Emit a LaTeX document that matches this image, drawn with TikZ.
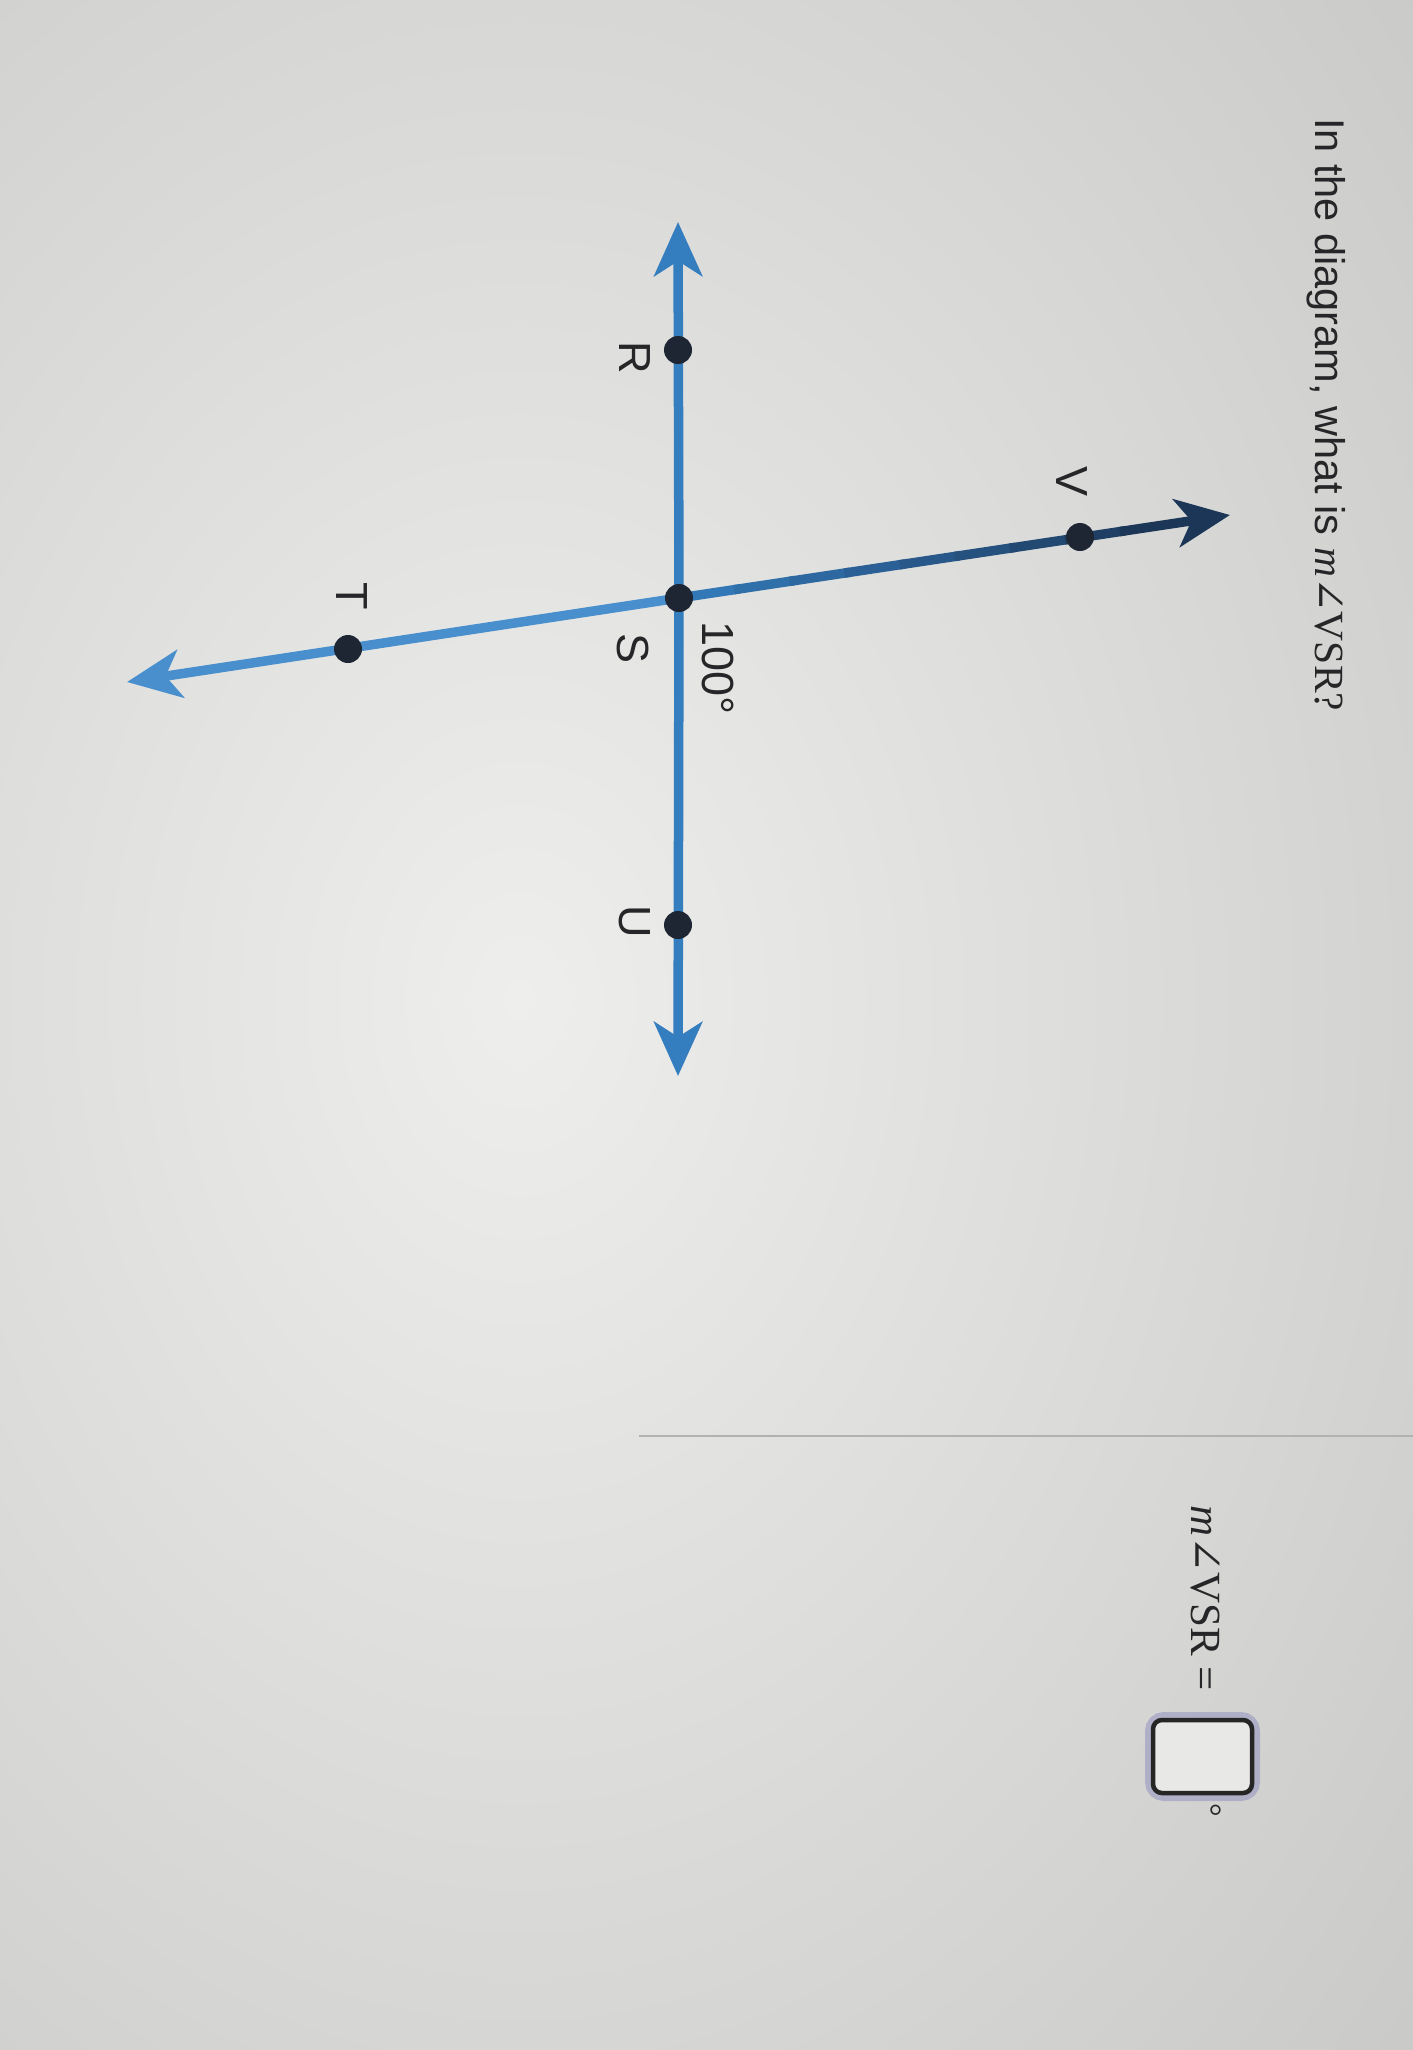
\documentclass[tikz,border=0pt]{standalone}
\usepackage{fontspec}
\setmainfont{Liberation Sans}
\newfontfamily\serifrm{Liberation Serif}
\newfontfamily\symrm{DejaVu Serif}
\usetikzlibrary{arrows.meta,calc}
\definecolor{bgdark}{RGB}{200,201,198}
\definecolor{bglight}{RGB}{238,238,236}
\definecolor{lineblue}{RGB}{52,126,192}
\definecolor{lightblue}{RGB}{74,143,205}
\definecolor{navyline}{RGB}{26,48,78}
\definecolor{dotc}{RGB}{30,38,52}
\definecolor{txt}{RGB}{38,38,40}
\definecolor{glow}{RGB}{140,140,190}
\begin{document}
\begin{tikzpicture}[x=1pt,y=-1pt,
  lbl/.style={rotate=-90, text=txt, font=\fontsize{45}{52}\selectfont, inner sep=0pt},
  qtext/.style={rotate=-90, text=txt, inner sep=0pt},
  pt/.style={circle, fill=dotc, minimum size=28pt, inner sep=0pt},
  ln/.style={line width=9.5pt, line cap=butt},
  arrowtip/.style={-{Stealth[length=54pt,width=48pt,inset=15pt]}}
]
\useasboundingbox (0,0) rectangle (1413,2050);
% background
\fill[bgdark] (0,0) rectangle (1413,2050);
\begin{scope}
  \clip (0,0) rectangle (1413,2050);
  \shade[inner color=bglight, outer color=bgdark] (520,1000) ellipse (1250 and 1650);
\end{scope}

% points
\coordinate (S) at (679,598);
\coordinate (R) at (678,350);
\coordinate (U) at (678,925);
\coordinate (Top) at (678,222);
\coordinate (Bot) at (678,1076);
\coordinate (V) at (1080,537);
\coordinate (Rtip) at (1230,515);
\coordinate (T) at (348,649);
\coordinate (Ltip) at (127,682);

% vertical line R-S-U
\draw[ln, lineblue, arrowtip] (S) -- (Top);
\draw[ln, lineblue, arrowtip] (S) -- (Bot);
% line S-T
\draw[ln, lightblue, arrowtip] (S) -- (Ltip);
% line S-V with darkening towards V
\foreach \a/\b/\p in {0/0.11/8, 0.1/0.21/18, 0.2/0.31/28, 0.3/0.41/38, 0.4/0.51/48, 0.5/0.61/58, 0.6/0.71/68, 0.7/0.81/80}
  \draw[ln, navyline!\p!lineblue] ($(S)!\a!(Rtip)$) -- ($(S)!\b!(Rtip)$);
\coordinate (Vmid) at ($(S)!0.8!(Rtip)$);
\draw[ln, navyline!92!lineblue, arrowtip] (Vmid) -- (Rtip);

% dots
\node[pt] (dR) at (R) {};
\node[pt] (dS) at (S) {};
\node[pt] (dU) at (U) {};
\node[pt] (dV) at (V) {};
\node[pt] (dT) at (T) {};

% labels
\node[lbl] (lR) at (635,358) {R};
\node[lbl] (lS) at (633,648) {S};
\node[lbl] (lU) at (635,922) {U};
\node[lbl] (lT) at (352,596) {T};
\node[lbl] (lV) at (1072,482) {V};
\node[lbl, font=\fontsize{45}{52}\selectfont] (ang) at (718,668) {100°};

% question
\node[qtext, anchor=west, font=\fontsize{41.5}{48}\selectfont] (q) at (1326,118)
  {In the diagram, what is {\serifrm\itshape m}{\symrm ∠}{\serifrm VSR?}};

% divider
\coordinate (d1) at (639,1436);
\coordinate (d2) at (1413,1436);
\draw[line width=2pt, black!30] (d1) -- (d2);

% answer line
\node[qtext, anchor=west, font=\fontsize{43}{50}\selectfont\serifrm] (ans) at (1205,1505)
  {\textit{m}{\symrm ∠}VSR =};
\draw[line width=16pt, glow, opacity=0.5, rounded corners=11pt] (1153,1720) rectangle (1252,1793);
\node[draw=black!85, line width=4.5pt, rounded corners=9pt, fill=bglight!85!bgdark,
      minimum width=99pt, minimum height=73pt, inner sep=0pt] (box) at (1202.5,1756.5) {};
\node[qtext, font=\fontsize{34}{40}\selectfont\serifrm] (deg) at (1210,1810) {°};
\end{tikzpicture}
\end{document}
